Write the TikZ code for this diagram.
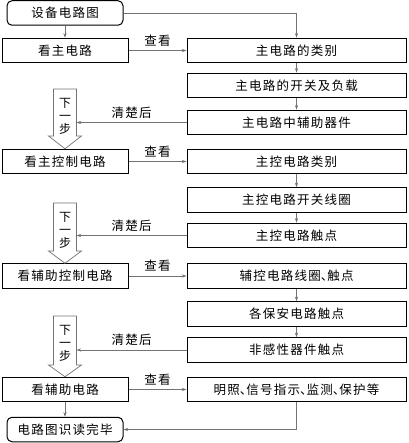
\documentclass[tikz,border=0pt]{standalone}
\usepackage{fontspec}
\setmainfont{Noto Sans CJK SC}[LetterSpace=10]
\usetikzlibrary{arrows.meta}
\newcommand{\dunhao}{\hbox to 6.5pt{、\hss}}
\begin{document}
\begin{tikzpicture}[x=1pt,y=-1pt,
  box/.style={draw=black, line width=1pt, minimum width=126pt, minimum height=24.5pt, inner sep=0pt, font=\fontsize{12.5}{14}\selectfont},
  rbox/.style={box, minimum width=219pt},
  term/.style={box, rounded corners=5pt, minimum width=116pt},
  conn/.style={draw=black!55, line width=0.6pt, -{Stealth[length=4.5pt,width=3pt]}},
  lbl/.style={font=\fontsize{12.5}{14}\selectfont, inner sep=1pt},
  hollow/.style={draw=black!55, line width=0.7pt, fill=white},
  vtext/.style={font=\fontsize{12}{13}\selectfont, align=center, inner sep=0pt}]
\useasboundingbox (0,0) rectangle (408,443);

% left column
\node[term] (start) at (65,13) {设备电路图};
\node[box] (L1) at (65,50.5) {看主电路};
\node[box] (L2) at (65,161.5) {看主控制电路};
\node[box] (L3) at (65,276) {看辅助控制电路};
\node[box] (L4) at (65,389.5) {看辅助电路};
\node[term] (end) at (65,429.5) {电路图识读完毕};

% right column
\node[rbox] (R1) at (296.5,50.5) {主电路的类别};
\node[rbox] (R2) at (296.5,85.5) {主电路的开关及负载};
\node[rbox] (R3) at (296.5,122.5) {主电路中辅助器件};
\node[rbox] (R4) at (296.5,161.5) {主控电路类别};
\node[rbox] (R5) at (296.5,200) {主控电路开关线圈};
\node[rbox] (R6) at (296.5,235.5) {主控电路触点};
\node[rbox] (R7) at (296.5,276) {辅控电路线圈\dunhao 触点};
\node[rbox] (R8) at (296.5,314) {各保安电路触点};
\node[rbox] (R9) at (296.5,350) {非感性器件触点};
\node[rbox] (R10) at (296.5,389.5) {明照\dunhao 信号指示\dunhao 监测\dunhao 保护等};

% hollow arrows
\draw[hollow] (53.5,89) -- (76.5,89) -- (76.5,136) -- (81.5,136) -- (L2.north) -- (48.5,136) -- (53.5,136) -- cycle;
\node[vtext] (N1) at (65,116) {下\\一\\步};
\draw[hollow] (53.5,203) -- (76.5,203) -- (76.5,251) -- (81.5,251) -- (L3.north) -- (48.5,251) -- (53.5,251) -- cycle;
\node[vtext] (N2) at (65,230) {下\\一\\步};
\draw[hollow] (53.5,316) -- (76.5,316) -- (76.5,365) -- (81.5,365) -- (L4.north) -- (48.5,365) -- (53.5,365) -- cycle;
\node[vtext] (N3) at (65,343) {下\\一\\步};

\coordinate (C1) at (76.5,122.5);
\coordinate (C2) at (76.5,235.5);
\coordinate (C3) at (76.5,350);

% connectors
\draw[conn] (start) -- (L1);
\draw[conn] (start.east) -| (R1.north);
\draw[conn] (L1) -- node[lbl, above=3pt] {查看} (R1);
\draw[conn] (R1) -- (R2);
\draw[conn] (R2) -- (R3);
\draw[conn] (R3) -- node[lbl, above=3pt] {清楚后} (C1);
\draw[conn] (L2) -- node[lbl, above=3pt] {查看} (R4);
\draw[conn] (R4) -- (R5);
\draw[conn] (R5) -- (R6);
\draw[conn] (R6) -- node[lbl, above=3pt] {清楚后} (C2);
\draw[conn] (L3) -- node[lbl, above=3pt] {查看} (R7);
\draw[conn] (R7) -- (R8);
\draw[conn] (R8) -- (R9);
\draw[conn] (R9) -- node[lbl, above=3pt] {清楚后} (C3);
\draw[conn] (L4) -- node[lbl, above=3pt] {查看} (R10);
\draw[conn] (L4) -- (end);
\draw[conn] (R10.south) |- (end.east);
\end{tikzpicture}
\end{document}
